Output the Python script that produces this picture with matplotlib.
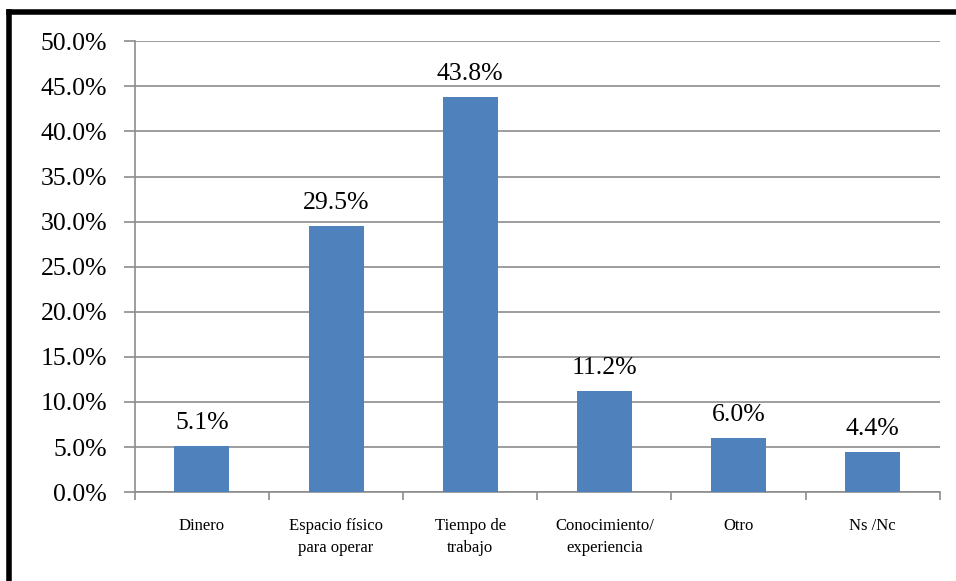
import matplotlib.pyplot as plt
from matplotlib.lines import Line2D
from matplotlib.ticker import MultipleLocator, FuncFormatter

categories = ["Dinero", "Espacio físico\npara operar", "Tiempo de\ntrabajo",
              "Conocimiento/\nexperiencia", "Otro", "Ns /Nc"]
values = [5.1, 29.5, 43.8, 11.2, 6.0, 4.4]

plt.rcParams['font.family'] = ['Liberation Serif', 'DejaVu Serif']

fig = plt.figure(figsize=(9.56, 5.81), dpi=100)
ax = fig.add_axes([0.141, 0.153, 0.842, 0.776])

x = range(len(categories))
bars = ax.bar(x, values, width=0.41, color='#4F81BD', zorder=3)

for b, v in zip(bars, values):
    ax.annotate(f"{v:.1f}%", (b.get_x() + b.get_width() / 2, v),
                xytext=(0, 9), textcoords='offset points',
                ha='center', va='bottom', fontsize=18.5)

ax.set_xlim(-0.5, len(categories) - 0.5)
ax.set_ylim(0, 50)
ax.yaxis.set_major_locator(MultipleLocator(5))
ax.yaxis.set_major_formatter(FuncFormatter(lambda v, p: f"{v:.1f}%"))
ax.grid(axis='y', color='#8c8c8c', linewidth=1.2, zorder=0)

# category ticks sit on the boundaries, labels in between
ax.set_xticks([i - 0.5 for i in range(len(categories) + 1)])
ax.set_xticklabels([])
ax.set_xticks(list(x), minor=True)
ax.set_xticklabels(categories, minor=True, fontsize=12, linespacing=1.45)
ax.tick_params(axis='x', which='minor', length=0, pad=19)
ax.tick_params(axis='x', which='major', length=6, color='#8c8c8c', width=1.2)
ax.tick_params(axis='y', length=8, color='#8c8c8c', width=1.2, labelsize=18.5, pad=12)

for s in ['top', 'right']:
    ax.spines[s].set_visible(False)
for s in ['left', 'bottom']:
    ax.spines[s].set_color('#8c8c8c')
    ax.spines[s].set_linewidth(1.2)

# black frame around the chart (left and top edges)
fig.add_artist(Line2D([0.0095, 0.0095], [0.0, 0.979], color='black', linewidth=4,
                      transform=fig.transFigure, solid_capstyle='projecting'))
fig.add_artist(Line2D([0.0095, 1.0], [0.979, 0.979], color='black', linewidth=4,
                      transform=fig.transFigure, solid_capstyle='projecting'))

fig.savefig("out.png", dpi=100)
